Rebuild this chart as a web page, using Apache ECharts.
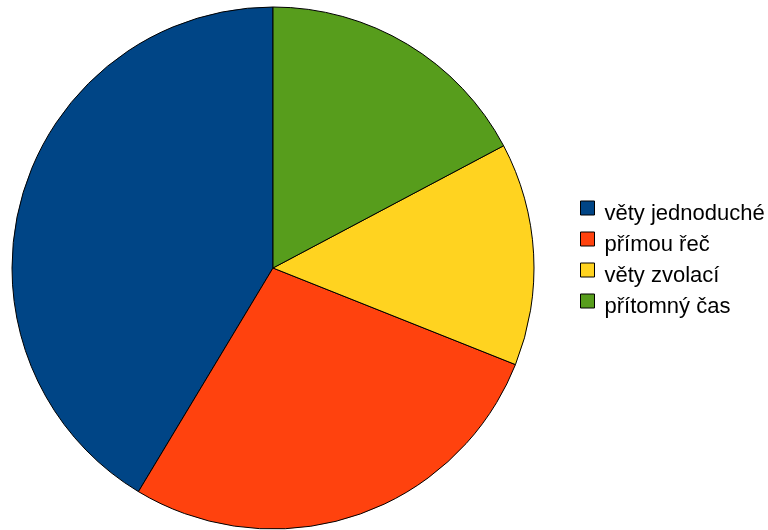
<!DOCTYPE html>
<html><head><meta charset="utf-8">
<script src="https://cdn.jsdelivr.net/npm/echarts@6/dist/echarts.min.js"></script>
<style>html,body{margin:0;padding:0;background:#fff}#c{width:768px;height:530px}</style>
</head><body><div id="c"></div>
<script>
const categories = ['věty jednoduché', 'přímou řeč', 'věty zvolací', 'přítomný čas'];
const values = [12, 8, 4, 5];
const colors = ['#004586', '#ff420e', '#ffd320', '#579d1c'];

const chart = echarts.init(document.getElementById('c'), null, {renderer: 'canvas'});
chart.setOption({
  animation: false,
  color: colors,
  legend: {
    orient: 'vertical',
    left: 580,
    top: 191,
    padding: 0,
    itemWidth: 14,
    itemHeight: 14,
    itemGap: -3,
    icon: 'rect',
    itemStyle: {borderColor: '#000', borderWidth: 1},
    formatter: function (name) { return '{t|' + name + '}'; },
    textStyle: {
      fontFamily: 'Liberation Sans', fontSize: 22, color: '#000',
      rich: {t: {fontFamily: 'Liberation Sans', fontSize: 22, color: '#000', lineHeight: 18, padding: [12, 0, 0, 5]}}
    },
    data: categories
  },
  series: [{
    type: 'pie',
    center: [273, 268],
    radius: 261,
    startAngle: 90,
    clockwise: false,
    label: {show: false},
    labelLine: {show: false},
    emphasis: {disabled: true},
    itemStyle: {borderColor: '#000', borderWidth: 1},
    data: categories.map((c, i) => ({name: c, value: values[i]}))
  }]
});
</script></body></html>
